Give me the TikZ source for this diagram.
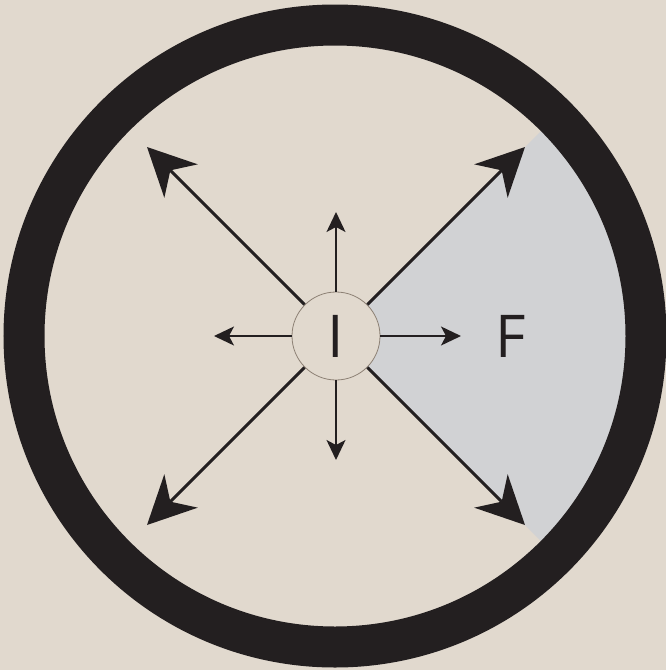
\documentclass[tikz,border=0pt]{standalone}
\usepackage{fontspec}
\setmainfont{Open Sans}
\usetikzlibrary{arrows.meta}
\definecolor{sand}{RGB}{225,217,206}
\definecolor{ringc}{RGB}{35,31,32}
\definecolor{wedge}{RGB}{209,210,212}
\definecolor{rimc}{RGB}{140,128,116}
\tikzset{
  bigarrow/.style={draw=ringc, line width=3pt, -{Stealth[length=48pt,width=47pt,inset=15pt]}},
  smallarrow/.style={draw=ringc, line width=1.5pt, -{Stealth[length=20pt,width=19pt,inset=5pt]}},
  letter/.style={text=ringc, font=\fontsize{59}{59}\selectfont, inner sep=0pt},
}
\begin{document}
\begin{tikzpicture}[x=1pt,y=-1pt]
\useasboundingbox (0,0) rectangle (666,670);
\fill[sand] (0,0) rectangle (666,670);
% grey wedge
\begin{scope}
  \clip (335,336) circle (292);
  \fill[wedge] (336,336) -- (736,-64) -- (736,736) -- cycle;
\end{scope}
% outer ring
\draw[ringc, line width=41pt] (335,336) circle (311);
% central circle
\node[circle, draw=rimc, line width=0.8pt, fill=sand, minimum size=88pt, inner sep=0pt, letter] (c) at (336,336) {I};
% text F
\node[letter] (f) at (511,336) {F};
% arrow end points
\coordinate (ul) at (147,147);
\coordinate (ur) at (525,147);
\coordinate (ll) at (147,525);
\coordinate (lr) at (525,525);
\coordinate (up) at (336,212);
\coordinate (dn) at (336,460);
\coordinate (lf) at (214,336);
\coordinate (rt) at (461,336);
\draw[bigarrow] (c.135) -- (ul);
\draw[bigarrow] (c.45) -- (ur);
\draw[bigarrow] (c.225) -- (ll);
\draw[bigarrow] (c.315) -- (lr);
\draw[smallarrow] (c.north) -- (up);
\draw[smallarrow] (c.south) -- (dn);
\draw[smallarrow] (c.west) -- (lf);
\draw[smallarrow] (c.east) -- (rt);
\end{tikzpicture}
\end{document}
